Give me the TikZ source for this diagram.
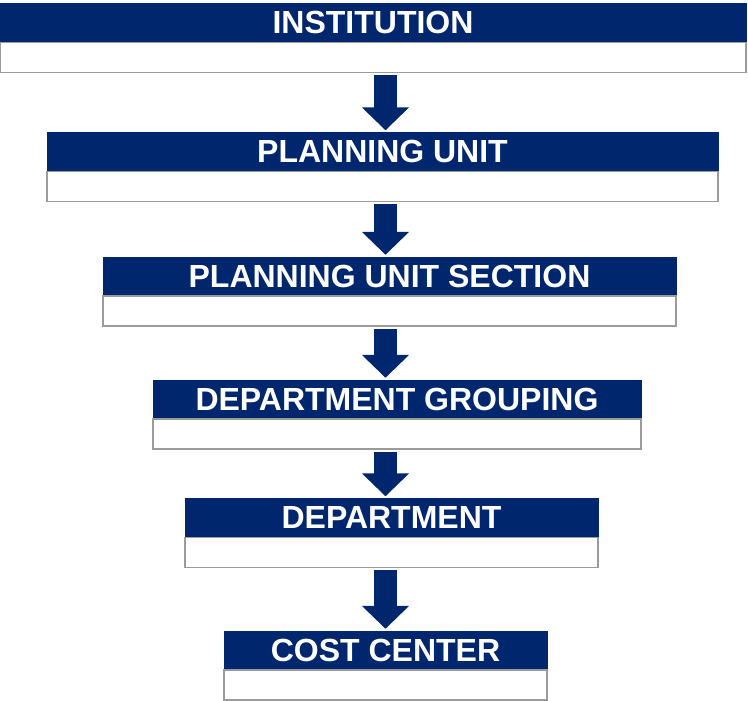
\documentclass[tikz,border=0pt]{standalone}
\usepackage{fontspec}
\setmainfont{Liberation Sans}
\usetikzlibrary{positioning,arrows.meta}
\definecolor{navy}{RGB}{0,38,110}
\definecolor{rim}{RGB}{155,155,155}
\tikzset{
  head/.style={fill=navy, draw=navy, text=white, inner sep=0pt, minimum height=38pt,
    font=\fontsize{32}{37}\selectfont\bfseries},
  body/.style={fill=white, draw=rim, line width=1.5pt, inner sep=0pt, minimum height=30pt},
  flow/.style={draw=navy, line width=23pt, -{Triangle[width=46pt,length=23pt]},
    shorten <=2pt, shorten >=2pt}
}
\begin{document}
\begin{tikzpicture}[x=1pt,y=-1pt]
      \useasboundingbox (0,0) rectangle (748,701);
      \node[head, minimum width=746pt] (h0) at (373,22.5) {INSTITUTION};
      \node[head, minimum width=671pt] (h1) at (382.5,151.5) {PLANNING UNIT};
      \node[head, minimum width=573pt] (h2) at (389.5,276) {PLANNING UNIT SECTION};
      \node[head, minimum width=488pt] (h3) at (397,399) {DEPARTMENT GROUPING};
      \node[head, minimum width=413pt] (h4) at (391.5,517.5) {DEPARTMENT};
      \node[head, minimum width=323pt] (h5) at (385.5,650) {COST CENTER};
      \node[body, minimum width=746pt, below=0pt of h0] (b0) {};
      \node[body, minimum width=671pt, below=0pt of h1] (b1) {};
      \node[body, minimum width=573pt, below=0pt of h2] (b2) {};
      \node[body, minimum width=488pt, below=0pt of h3] (b3) {};
      \node[body, minimum width=413pt, below=0pt of h4] (b4) {};
      \node[body, minimum width=323pt, below=0pt of h5] (b5) {};
      \begin{scope}[flow]
        \draw (b0.south -| h5) to (h1.north -| h5);
        \draw (b1.south -| h5) to (h2.north -| h5);
        \draw (b2.south -| h5) to (h3.north -| h5);
        \draw (b3.south -| h5) to (h4.north -| h5);
        \draw (b4.south -| h5) to (h5.north);
      \end{scope}
    \end{tikzpicture}
\end{document}
